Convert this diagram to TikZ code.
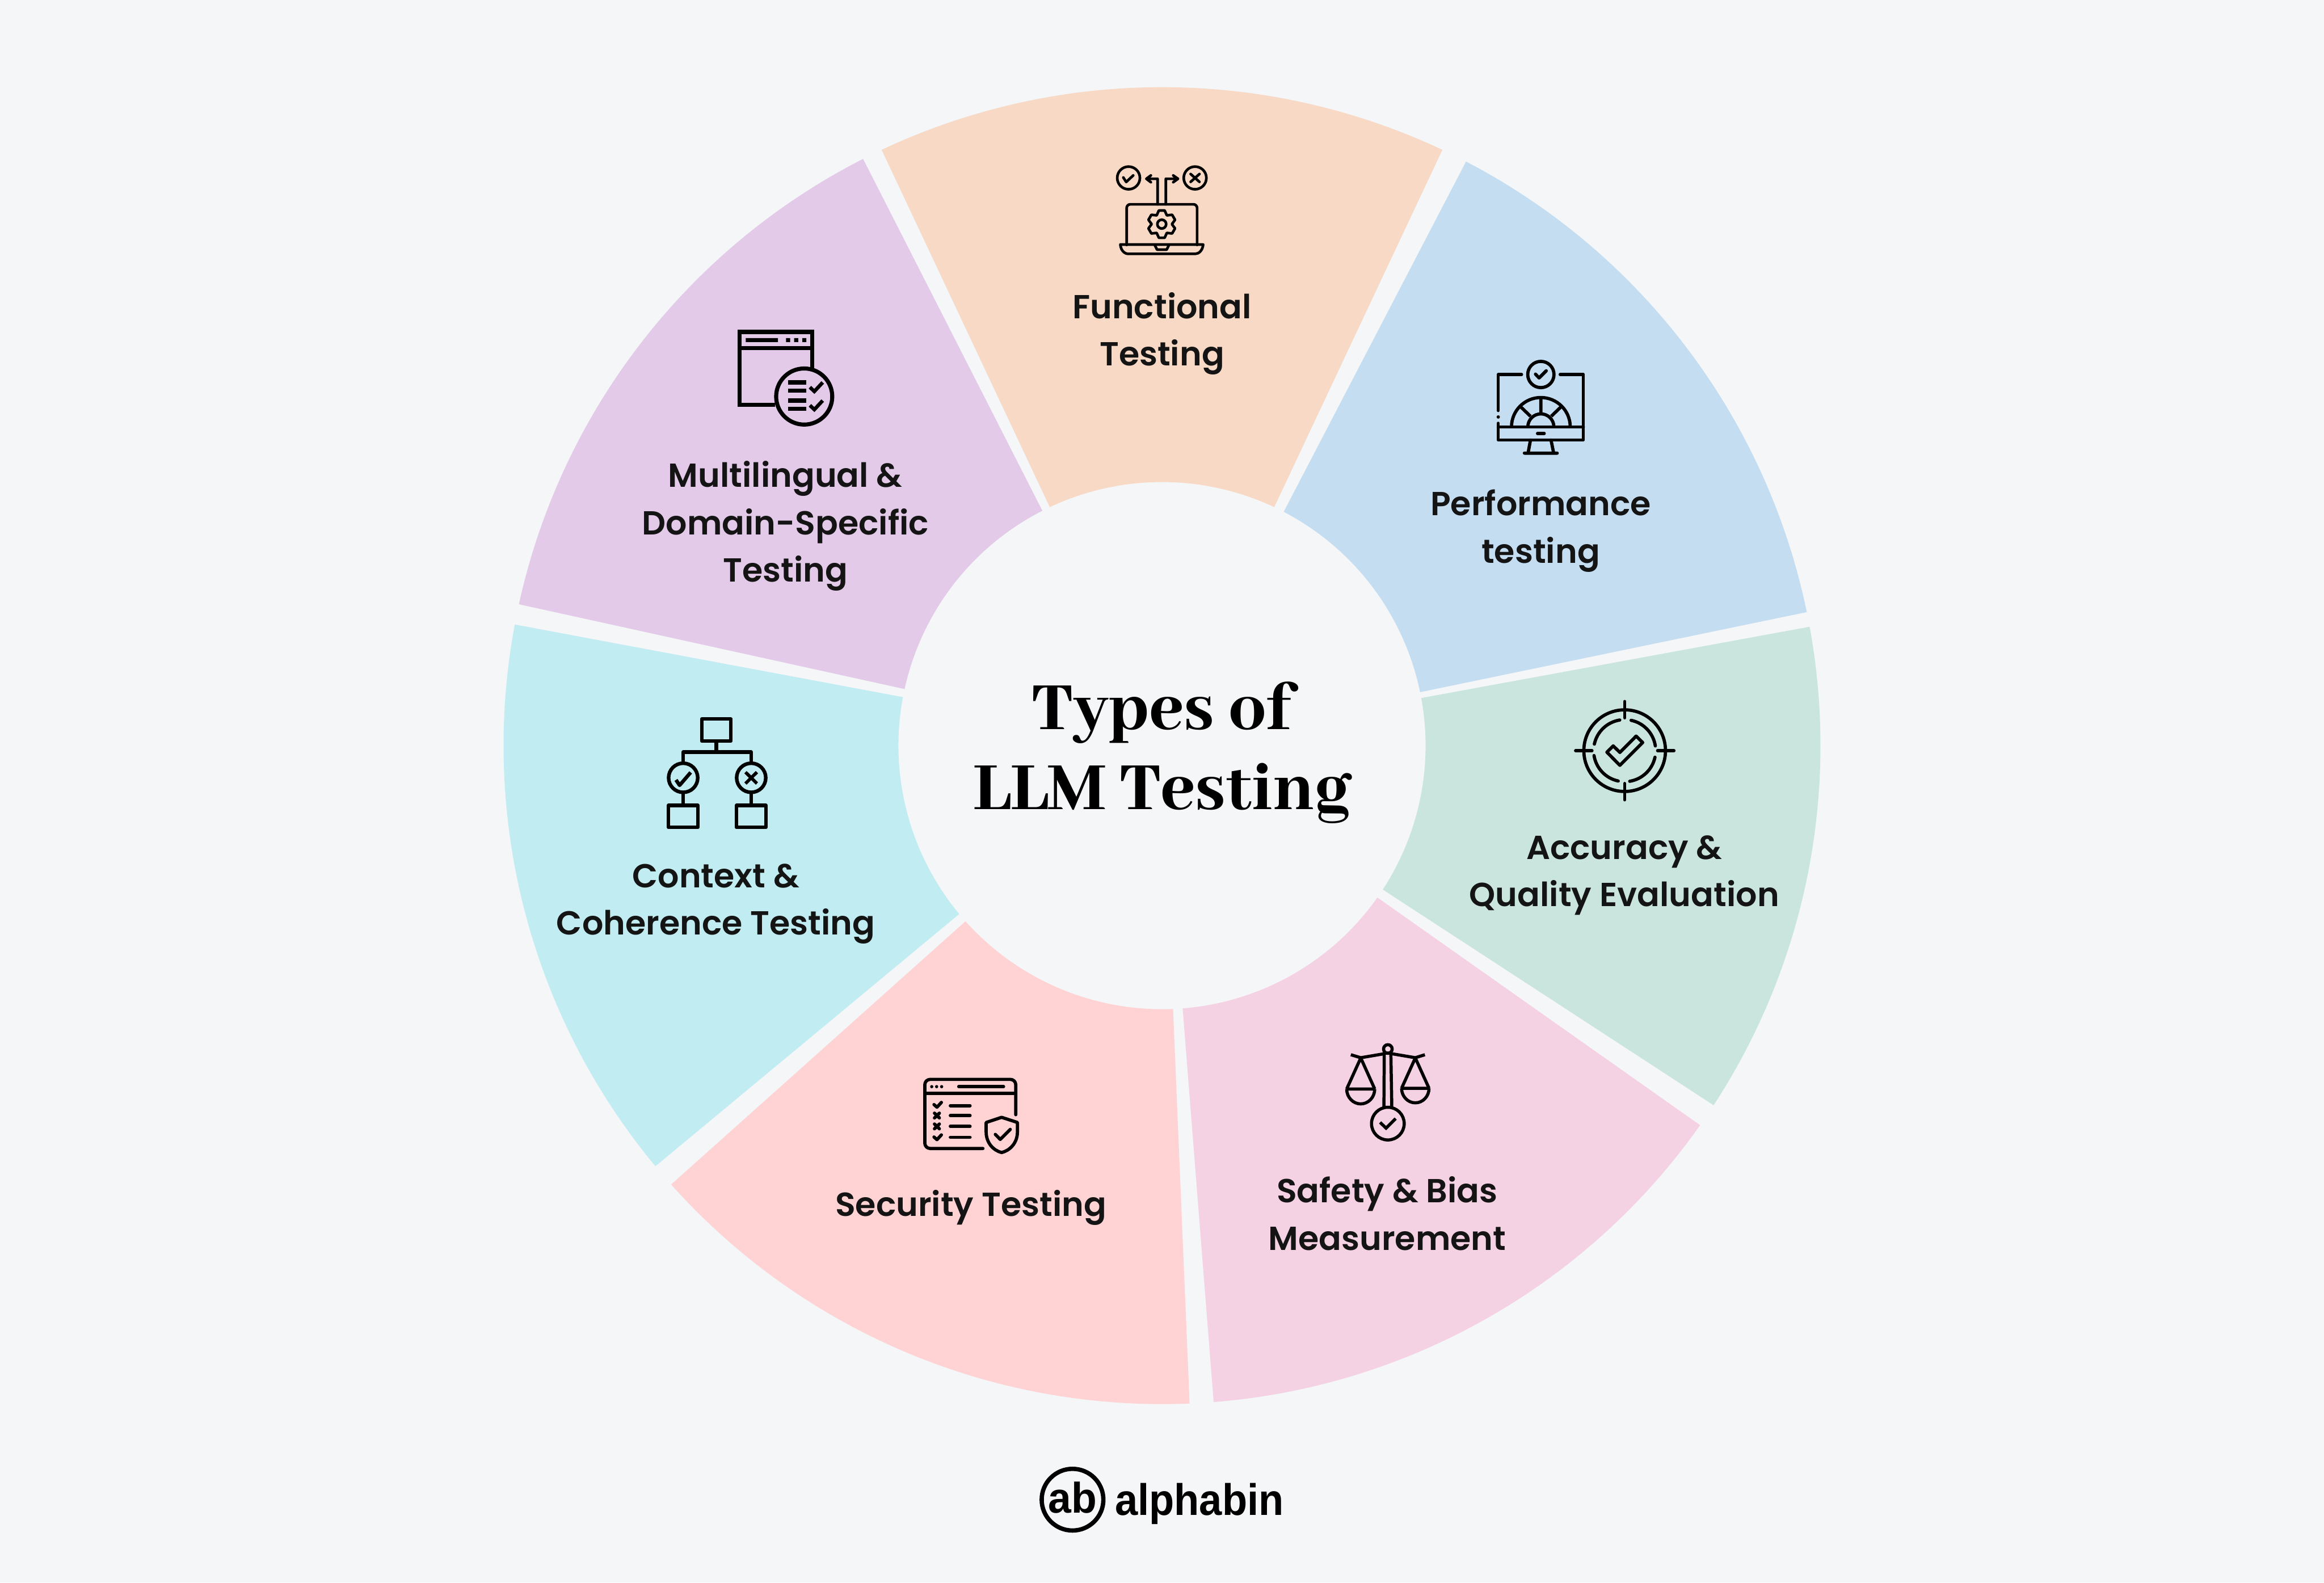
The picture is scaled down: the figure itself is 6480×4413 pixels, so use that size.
\documentclass[tikz,border=0pt]{standalone}
\usepackage{fontspec}
\usepackage{graphicx}
\setmainfont{Poppins}
\newfontfamily\lab{Poppins SemiBold}
\newfontfamily\ttl{Abhaya Libre}[BoldFont={Abhaya Libre ExtraBold}]
\newfontfamily\logo{Liberation Sans}
\definecolor{bgc}{HTML}{F4F6F8}
\definecolor{cfunc}{HTML}{F7D9C5}
\definecolor{cperf}{HTML}{C5DDF1}
\definecolor{cacc}{HTML}{C9E5DE}
\definecolor{csafe}{HTML}{F4D1E3}
\definecolor{csec}{HTML}{FFD2D3}
\definecolor{cctx}{HTML}{C1EDF2}
\definecolor{cmul}{HTML}{E3CAE8}
\definecolor{ink}{HTML}{141414}
\tikzset{
  zoomcoords/.style={x=0.0033333cm,y=-0.0033333cm},
  lw/.style={line width=#1*0.033333mm},
  ic/.style={draw=black,lw=#1,line cap=round,line join=round},
  icm/.style={draw=black,lw=#1,line cap=butt,line join=miter},
  seglabel/.style={font=\lab\fontsize{26.4}{37.6}\selectfont,text=ink,align=center,inner sep=0pt},
}
\newcommand{\segm}[3]{%
  \fill[#1] (-#2:735) arc[start angle=-#2,end angle=-#3,radius=735]
    -- (-#3:1836) arc[start angle=-#3,end angle=-#2,radius=1836] -- cycle;}
\begin{document}
\begin{tikzpicture}[x=0.01cm,y=-0.01cm]
\useasboundingbox (0,0) rectangle (6480,4413);
\fill[bgc] (0,0) rectangle (6480,4413);
\begin{scope}[shift={(3240,2079)}]
  \segm{cfunc}{115.2}{64.8}
  \segm{cperf}{62.5}{11.7}
  \segm{cacc}{10.4}{-33.1}
  \segm{csafe}{-35.2}{-85.5}
  \segm{csec}{-87.6}{-138.2}
  \segm{cctx}{-140.3}{-190.6}
  \segm{cmul}{-192.4}{-243}
\end{scope}

% labels
\node[font=\ttl\bfseries\fontsize{59}{63.5}\selectfont,align=center,inner sep=0pt,text=black] (title) at (3240,2098) {Types of\\LLM Testing};
\node[seglabel] (lfunc) at (3240,930) {Functional\\Testing};
\node[seglabel] (lperf) at (4296,1480) {Performance\\testing};
\node[seglabel] (lacc) at (4529,2441) {Accuracy \&\\Quality Evaluation};
\node[seglabel] (lsafe) at (3868,3384) {Safety \& Bias\\Measurement};
\node[seglabel] (lsec) at (2707,3368) {Security Testing};
\node[seglabel] (lctx) at (1996,2520) {Context \&\\Coherence Testing};
\node[seglabel] (lmul) at (2190,1467) {Multilingual \&\\Domain-Specific\\Testing};

% functional icon
\begin{scope}[shift={(3000,400)},zoomcoords]
  \path[ic=22] (441,289) circle[radius=95] (998,289) circle[radius=95];
  \path[ic=22] (397,285) -- (421,323) -- (480,268);
  \path[ic=22] (961,256) -- (1035,322) (1035,256) -- (961,322);
  \path[ic=22] (684,510) -- (684,296) -- (590,296) (628,268) -- (590,296) -- (628,325);
  \path[ic=22] (753,510) -- (753,296) -- (855,296) (815,268) -- (855,296) -- (815,325);
  \path[ic=22,rounded corners=0.1cm] (425,850) -- (425,510) -- (1015,510) -- (1015,850);
  \path[ic=22] (372,847) -- (1066,847) .. controls (1062,895) and (1030,925) .. (1000,925) -- (440,925) .. controls (405,925) and (376,895) .. (372,847);
  \path[ic=22] (660,850) -- (680,890) -- (760,890) -- (780,850);
  \path[ic=22] (719,676) circle[radius=37];
  \begin{scope}[shift={(719,676)}]
    \path[ic=22] (78:117) \foreach \t in {90,150,210,270,330,390} { -- (\t-12:117) -- (\t+12:117) -- (\t+30:85) } -- cycle;
  \end{scope}
\end{scope}

% performance icon
\begin{scope}[shift={(4100,960)},zoomcoords]
  \path[ic=27] (590,253) circle[radius=110];
  \path[ic=27] (545,250) -- (575,282) -- (635,222);
  \path[ic=27] (428,253) -- (233,253) -- (233,555);
  \fill[black] (233,609) circle[radius=14];
  \path[ic=27] (233,662) -- (233,802) -- (946,802) -- (946,253) -- (752,253);
  \path[ic=27] (233,692) -- (946,692);
  \path[ic=27] (562,747) -- (618,747);
  \path[ic=27] (503,802) -- (483,910) (675,802) -- (697,910) (452,912) -- (727,912);
  \path[icm=27] (344,692) arc[start angle=180,end angle=360,radius=246];
  \path[icm=27] (481,692) arc[start angle=180,end angle=360,radius=109];
  \path[icm=27] (590,446) -- (590,583) (422,525) -- (503,603) (758,525) -- (677,603);
\end{scope}

% accuracy icon
\begin{scope}[shift={(4340,1920)},zoomcoords]
  \path[ic=27] (571,520) circle[radius=342];
  \path[ic=27] (571,108) -- (571,245) (571,795) -- (571,932) (160,520) -- (297,520) (847,520) -- (984,520);
  \begin{scope}[shift={(571,520)}]
    \path[ic=27] (192.2:260) arc[start angle=192.2,end angle=260.9,radius=260];
    \path[ic=27] (282:260) arc[start angle=282,end angle=351.2,radius=260];
    \path[ic=27] (12.2:260) arc[start angle=12.2,end angle=80.7,radius=260];
    \path[ic=27] (102:260) arc[start angle=102,end angle=170.9,radius=260];
  \end{scope}
  \path[ic=27] (422,533) -- (475,480) -- (531,535) -- (667,398) -- (722,452) -- (531,643) -- cycle;
\end{scope}

% safety icon
\begin{scope}[shift={(3700,2870)},zoomcoords]
  \path[icm=26] (510,165) circle[radius=36];
  \path[icm=26] (200,213) -- (283,238) -- (478,205);
  \path[icm=26] (820,213) -- (740,238) -- (545,205);
  \path[icm=26] (480,190) -- (477,650) (535,190) -- (543,650) (478,200) -- (540,200);
  \path[icm=26] (510,790) circle[radius=137];
  \path[icm=26] (445,780) -- (495,828) -- (575,748);
  \path[icm=26,line join=round] (283,240) -- (165,500) (283,240) -- (400,500);
  \path[icm=26,line join=round] (165,500) -- (400,500) (165,500) arc[start angle=180,end angle=0,x radius=117.5,y radius=125];
  \path[icm=26,line join=round] (740,240) -- (625,494) (740,240) -- (855,494);
  \path[icm=26,line join=round] (625,494) -- (855,494) (625,494) arc[start angle=180,end angle=0,x radius=115,y radius=122];
\end{scope}

% security icon
\begin{scope}[shift={(2540,2970)},zoomcoords]
  \path[ic=27,rounded corners=0.15cm] (603,698) -- (116,698) -- (116,119) -- (878,119) -- (878,415);
  \path[ic=27,line cap=butt] (116,235) -- (878,235);
  \fill[black] (174,180) circle[radius=13.5] (215,180) circle[radius=13.5] (257,180) circle[radius=13.5];
  \path[ic=27] (400,180) -- (776,180);
  \path[ic=27] (330,339) -- (495,339) (330,423) -- (495,423) (330,513) -- (495,513) (330,604) -- (495,604);
  \path[ic=27] (193,330) -- (218,352) -- (255,312) (193,602) -- (218,624) -- (255,584);
  \path[ic=27] (197,402) -- (238,442) (238,402) -- (197,442) (197,493) -- (238,533) (238,493) -- (197,533);
  \path[ic=27] (630,480) -- (760,437) -- (892,480) -- (892,560) .. controls (892,650) and (830,715) .. (760,732) .. controls (690,715) and (630,650) .. (630,560) -- cycle;
  \path[ic=27] (707,580) -- (748,622) -- (832,538);
\end{scope}

% context icon
\begin{scope}[shift={(1820,1970)},zoomcoords]
  \path[ic=30] (410,105) rectangle (655,289);
  \path[icm=30] (533,289) -- (533,382);
  \path[ic=30] (255,460) -- (255,382) -- (825,382) -- (825,460);
  \path[icm=30] (255,597) circle[radius=122] (825,597) circle[radius=122];
  \path[icm=30,line join=round] (195,615) -- (225,660) -- (318,552);
  \path[icm=27] (777,550) -- (873,645) (873,550) -- (777,645);
  \path[icm=30] (255,720) -- (255,828) (825,720) -- (825,828);
  \path[ic=30] (132,828) rectangle (378,1013) (702,828) rectangle (948,1013);
\end{scope}

% multilingual icon
\begin{scope}[shift={(2030,890)},zoomcoords]
  \path[icm=34] (395,716) -- (97,716) -- (97,107) -- (706,107) -- (706,410);
  \path[icm=34] (97,242) -- (706,242);
  \fill[black] (148,158) rectangle (418,192) (486,158) rectangle (520,192) (554,158) rectangle (588,192) (622,158) rectangle (656,192);
  \path[icm=34] (638,648) circle[radius=235];
  \path[icm=34] (503,530) -- (656,530) (503,597) -- (656,597) (503,682) -- (656,682) (503,749) -- (656,749);
  \path[icm=30] (686,570) -- (723,605) -- (793,530) (686,722) -- (723,757) -- (793,682);
\end{scope}

% logo
\draw[black,line width=0.12cm] (2990.5,4181.5) circle[radius=86];
\node[font=\logo\bfseries\fontsize{34}{36}\selectfont,inner sep=0pt,text=black,anchor=base] (logoab) at (2991,4218) {\scalebox{.97}[1]{ab}};
\node[font=\logo\bfseries\fontsize{35}{38}\selectfont,inner sep=0pt,text=black,anchor=base] (logotxt) at (3344,4224) {\scalebox{.93}[1]{alphabin}};
\end{tikzpicture}
\end{document}
